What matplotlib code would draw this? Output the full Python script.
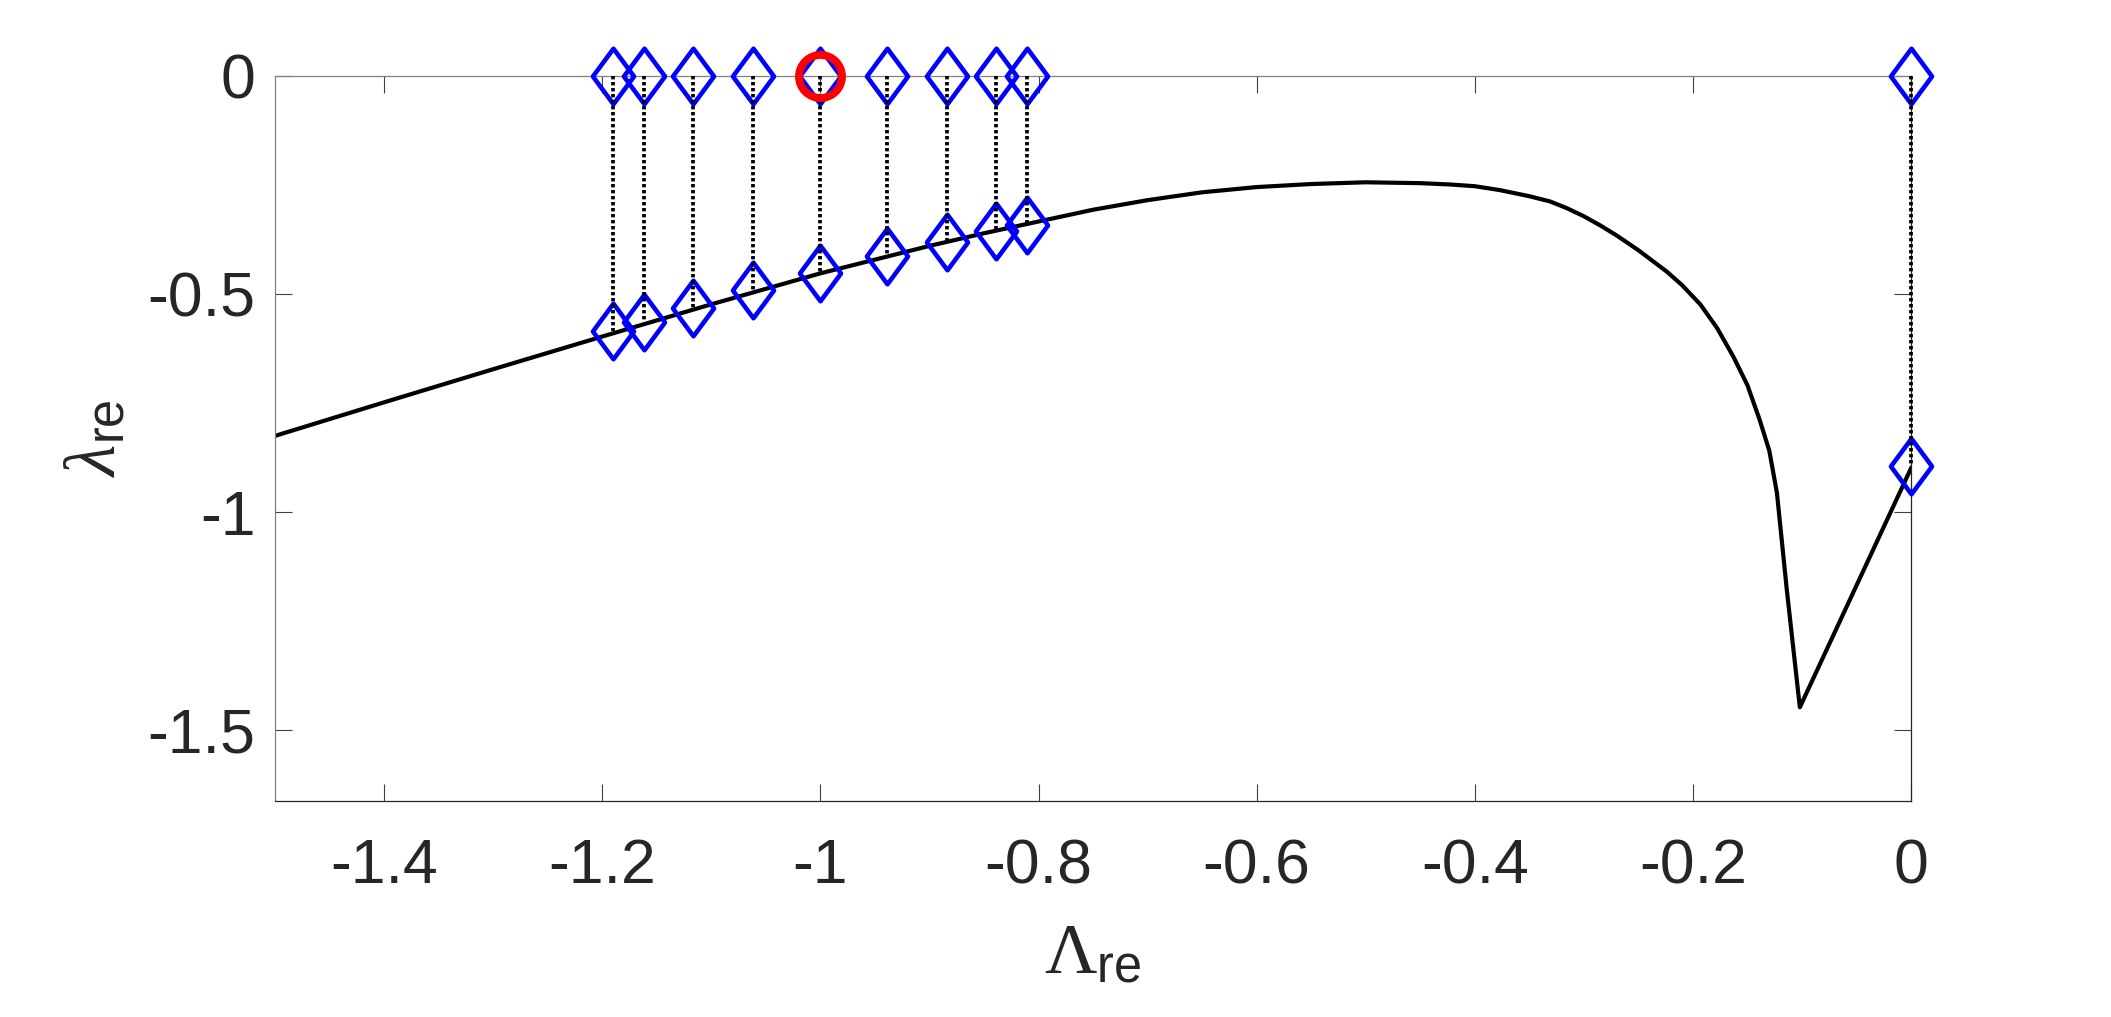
import matplotlib
matplotlib.use('Agg')
import matplotlib.pyplot as plt
from matplotlib.path import Path

# Fonts: Helvetica-like ticks, Times-like greek in the labels
matplotlib.rcParams['font.family'] = 'Liberation Sans'
matplotlib.rcParams['mathtext.fontset'] = 'custom'
matplotlib.rcParams['mathtext.rm'] = 'Liberation Serif'
matplotlib.rcParams['mathtext.it'] = 'Liberation Serif:italic'
matplotlib.rcParams['mathtext.sf'] = 'Liberation Sans'

# Black curve
curve_x = [-1.5, -1.4, -1.3, -1.2, -1.1, -1.0, -0.9, -0.85, -0.8, -0.75, -0.7,
           -0.65, -0.6, -0.55, -0.5, -0.45, -0.423, -0.40, -0.377, -0.35, -0.331,
           -0.316, -0.30, -0.285, -0.270, -0.25, -0.224, -0.21, -0.193, -0.178,
           -0.163, -0.15, -0.139, -0.13, -0.123, -0.114, -0.102, 0.0]
curve_y = [-0.826, -0.749, -0.673, -0.598, -0.524, -0.453, -0.390, -0.361, -0.334,
           -0.307, -0.285, -0.267, -0.255, -0.248, -0.244, -0.246, -0.249, -0.253,
           -0.262, -0.276, -0.288, -0.303, -0.322, -0.343, -0.366, -0.400, -0.449,
           -0.480, -0.525, -0.578, -0.644, -0.710, -0.788, -0.860, -0.957, -1.178,
           -1.449, -0.900]

# Diamond pairs: one on the zero line, one on the curve
pair_x = [-1.190, -1.162, -1.117, -1.062, -1.0, -0.939, -0.884, -0.839, -0.811, 0.0]
pair_top = [0.0] * len(pair_x)
pair_low = [-0.585, -0.564, -0.532, -0.492, -0.453, -0.414, -0.381, -0.355, -0.342, -0.895]

# Highlighted point
mark_x = [-1.0]
mark_y = [0.0]

x_ticks = [-1.4, -1.2, -1.0, -0.8, -0.6, -0.4, -0.2, 0.0]
x_ticklabels = ['-1.4', '-1.2', '-1', '-0.8', '-0.6', '-0.4', '-0.2', '0']
y_ticks = [-1.5, -1.0, -0.5, 0.0]
y_ticklabels = ['-1.5', '-1', '-0.5', '0']

# MATLAB-style diamond (taller than wide)
diamond = Path([(0, 1), (0.74, 0), (0, -1), (-0.74, 0), (0, 1)],
               [Path.MOVETO, Path.LINETO, Path.LINETO, Path.LINETO, Path.CLOSEPOLY])

fig = plt.figure(figsize=(21.11, 10.17), dpi=100)
ax = fig.add_axes([0.1303, 0.2124, 0.775, 0.7129])

ax.plot(curve_x, curve_y, color='black', lw=3.0, zorder=2)

for x, y0, y1 in zip(pair_x, pair_top, pair_low):
    ax.plot([x, x], [y0, y1], color='black', lw=2.7, linestyle=(0, (0.9, 0.7)),
            dash_capstyle='butt', zorder=4, clip_on=False)

ax.plot(pair_x, pair_top, linestyle='none', marker=diamond, markersize=40,
        markerfacecolor='none', markeredgecolor='blue', markeredgewidth=3.3,
        zorder=3, clip_on=False)
ax.plot(pair_x, pair_low, linestyle='none', marker=diamond, markersize=40,
        markerfacecolor='none', markeredgecolor='blue', markeredgewidth=3.3,
        zorder=3, clip_on=False)

ax.plot(mark_x, mark_y, linestyle='none', marker='o', markersize=31,
        markerfacecolor='none', markeredgecolor='red', markeredgewidth=5.6,
        zorder=5, clip_on=False)

ax.set_xlim(-1.5, 0)
ax.set_ylim(-1.664, 0)
ax.set_xticks(x_ticks)
ax.set_xticklabels(x_ticklabels)
ax.set_yticks(y_ticks)
ax.set_yticklabels(y_ticklabels)

ax.tick_params(direction='in', length=12, width=0.8, color='#404040',
               labelsize=45, labelcolor='#262626', top=True, right=True)
ax.tick_params(axis='x', pad=26)
ax.tick_params(axis='y', pad=14)

for side in ['bottom', 'right']:
    ax.spines[side].set_color('#262626')
    ax.spines[side].set_linewidth(0.9)
for side in ['top', 'left']:
    ax.spines[side].set_color('#808080')
    ax.spines[side].set_linewidth(0.9)

ax.set_xlabel(r'$\Lambda_{\mathsf{re}}$', fontsize=52, color='#262626')
ax.set_ylabel(r'$\lambda_{\mathsf{re}}$', fontsize=52, color='#262626')
ax.xaxis.set_label_coords(0.5, -0.166)
ax.yaxis.set_label_coords(-0.088, 0.5)

fig.savefig('out.png', dpi=100)
